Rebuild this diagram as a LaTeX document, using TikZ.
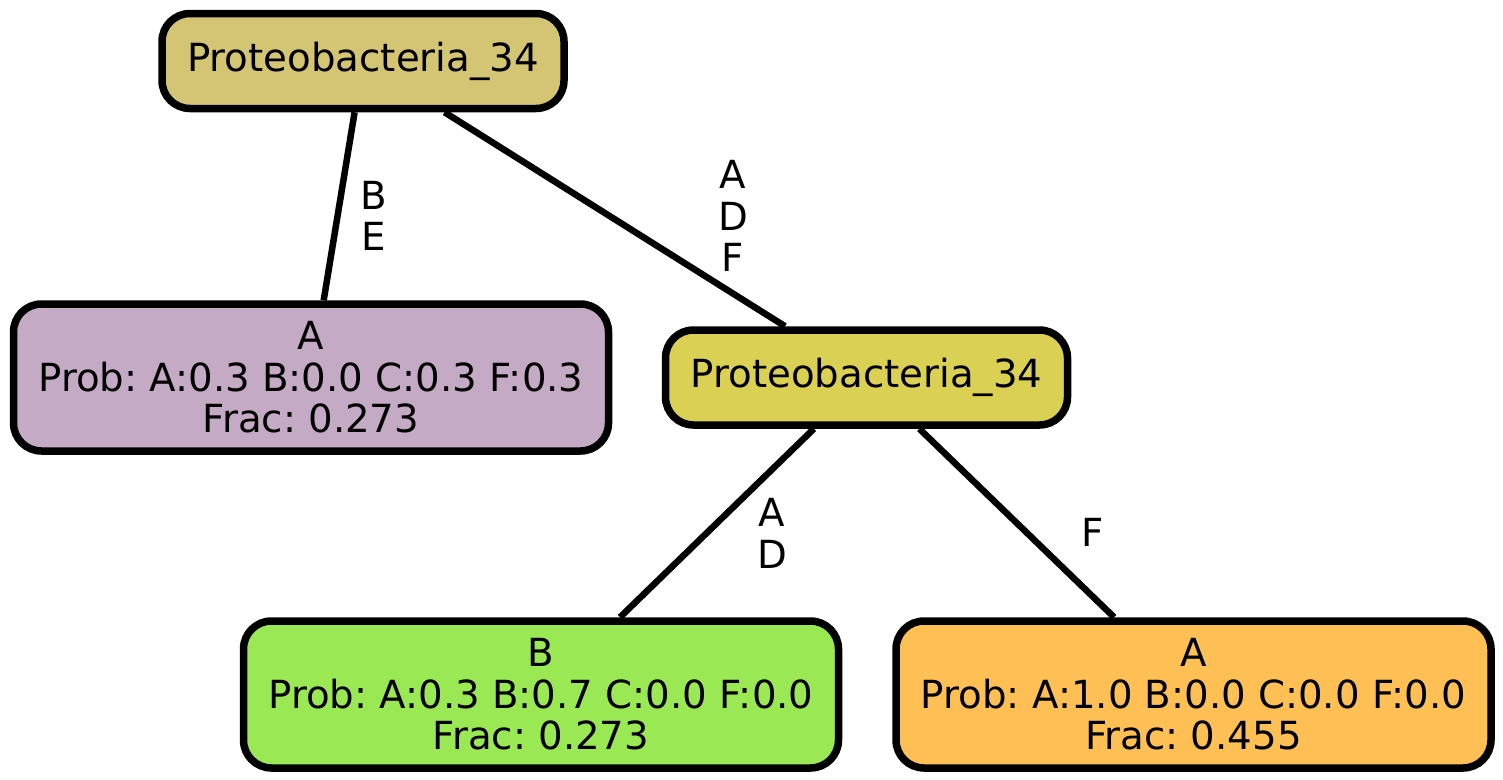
\documentclass[tikz,border=0pt]{standalone}
\usepackage{fontspec}
\setmainfont{DejaVu Sans}
\frenchspacing
\definecolor{rootfill}{RGB}{212,197,117}
\definecolor{midfill}{RGB}{218,208,84}
\definecolor{leaffillA}{RGB}{196,170,197}
\definecolor{leaffillB}{RGB}{155,232,85}
\definecolor{leaffillC}{RGB}{254,192,85}
\tikzset{
  treefont/.style={font=\fontsize{38.7}{41.5}\selectfont},
  treenode/.style={draw=black, line width=7.5pt, rounded corners=28pt,
    align=center, inner sep=0pt, treefont},
  innerbox/.style={treenode, minimum width=402pt, minimum height=95pt},
  leafbox/.style={treenode, minimum width=595pt, minimum height=147pt},
  edge/.style={draw=black, line width=6.5pt},
  edgelabel/.style={align=center, inner sep=0pt, treefont}
}
\begin{document}
\begin{tikzpicture}[x=1pt,y=-1pt]
  \useasboundingbox (0,0) rectangle (1503,779);
  % internal nodes
  \node[innerbox, fill=rootfill] (root) at (363,61) {Proteobacteria\_34};
  \node[innerbox, fill=midfill] (mid) at (866.5,377.5) {Proteobacteria\_34};
  % leaves
  \node[leafbox, fill=leaffillA] (leafA) at (311,377.5)
    {A\\Prob: A:0.3 B:0.0 C:0.3 F:0.3\\Frac: 0.273};
  \node[leafbox, fill=leaffillB] (leafB) at (541,694.5)
    {B\\Prob: A:0.3 B:0.7 C:0.0 F:0.0\\Frac: 0.273};
  \node[leafbox, fill=leaffillC] (leafC) at (1193.5,694.5)
    {A\\Prob: A:1.0 B:0.0 C:0.0 F:0.0\\Frac: 0.455};
  % connectors
  \draw[edge] (root) -- (leafA);
  \draw[edge] (root) -- (mid);
  \draw[edge] (mid) -- (leafB);
  \draw[edge] (mid) -- (leafC);
  % connector labels
  \node[edgelabel] (lblBE) at (374,216) {B\\E};
  \node[edgelabel] (lblADF) at (733,216) {A\\D\\F};
  \node[edgelabel] (lblAD) at (772,533.5) {A\\D};
  \node[edgelabel] (lblF) at (1093,532) {F};
\end{tikzpicture}
\end{document}
